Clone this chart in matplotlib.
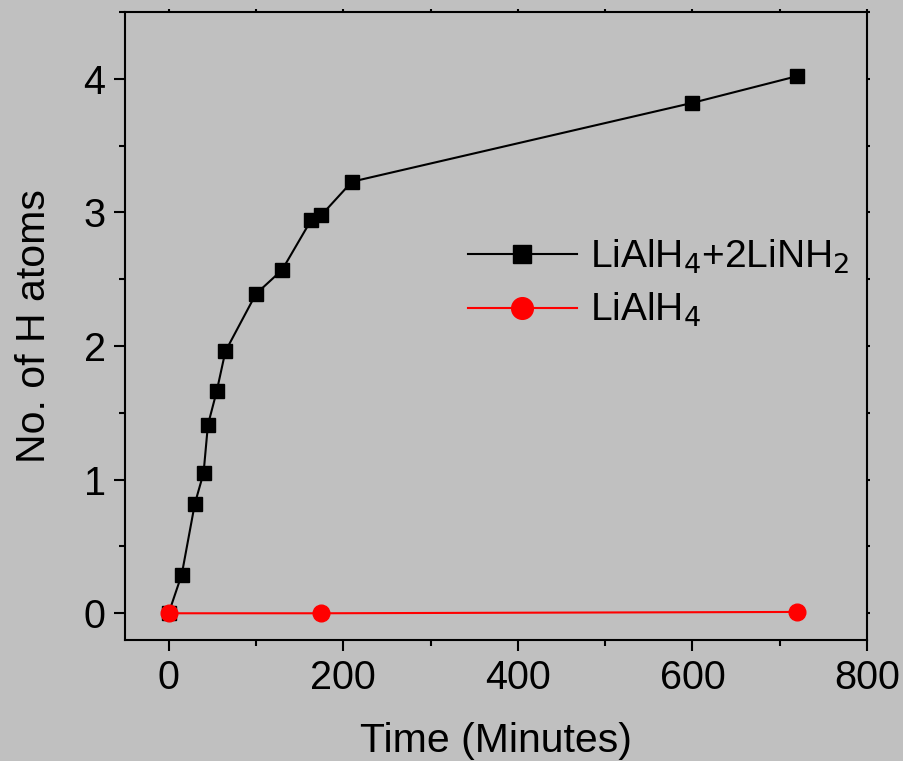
import matplotlib.pyplot as plt
from matplotlib.ticker import MultipleLocator

# data
time_mix = [0, 15, 30, 40, 45, 55, 65, 100, 130, 163, 175, 210, 600, 720]
h_mix = [0.0, 0.29, 0.82, 1.05, 1.41, 1.66, 1.96, 2.39, 2.57, 2.94, 2.98, 3.23, 3.82, 4.02]

time_pure = [0, 175, 720]
h_pure = [0.0, 0.0, 0.01]

bg = '#c0c0c0'
plt.rcParams['font.family'] = ['Liberation Sans', 'DejaVu Sans']

fig = plt.figure(figsize=(9.04, 7.61), dpi=100, facecolor=bg)
ax = fig.add_axes([125 / 904, 1 - 640 / 761, 742 / 904, 628 / 761])
ax.set_facecolor(bg)

ax.plot(time_mix, h_mix, color='black', lw=1.5, marker='s', ms=10,
        label='LiAlH$_4$+2LiNH$_2$')
ax.plot(time_pure, h_pure, color='#ff0000', lw=1.5, marker='o', ms=12,
        label='LiAlH$_4$')

ax.set_xlim(-50, 800)
ax.set_ylim(-0.2, 4.5)
ax.xaxis.set_major_locator(MultipleLocator(200))
ax.xaxis.set_minor_locator(MultipleLocator(100))
ax.yaxis.set_major_locator(MultipleLocator(1))
ax.yaxis.set_minor_locator(MultipleLocator(0.5))

for s in ax.spines.values():
    s.set_linewidth(1.5)
ax.tick_params(which='major', direction='out', length=8, width=1.5, labelsize=28.5, pad=6)
ax.tick_params(which='minor', direction='out', length=4, width=1.5)
ax.tick_params(which='both', top=True, right=True)
for t in ax.xaxis.get_major_ticks() + ax.xaxis.get_minor_ticks():
    t.tick2line.set_markersize(2)
for t in ax.yaxis.get_major_ticks() + ax.yaxis.get_minor_ticks():
    t.tick2line.set_markersize(2)

ax.set_xlabel('Time (Minutes)', fontsize=29.5, labelpad=18)
ax.set_ylabel('No. of H atoms', fontsize=29.5, labelpad=22)

ax.legend(loc='upper left', bbox_to_anchor=(0.462, 0.64), frameon=False,
          fontsize=28, handlelength=2.8, handletextpad=0.35, markerscale=1.3,
          labelspacing=0.38, borderpad=0, borderaxespad=0)

fig.savefig('out.png', dpi=100, facecolor=bg)
